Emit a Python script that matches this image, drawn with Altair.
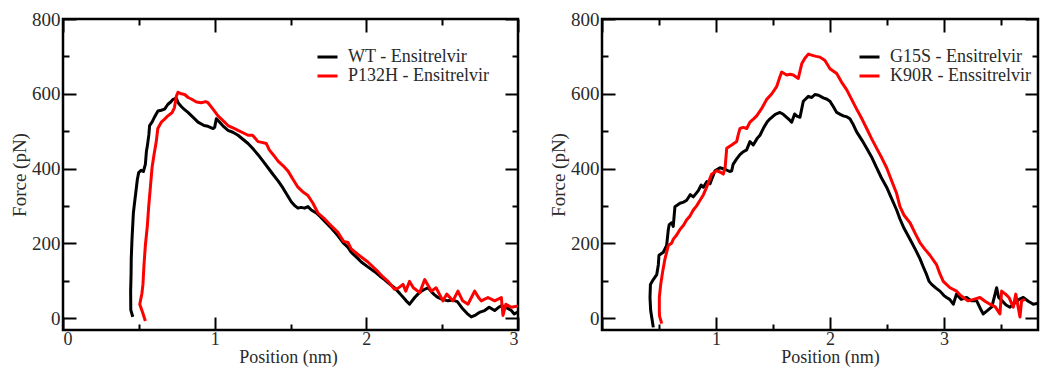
import altair as alt
import pandas as pd

FONT = "Liberation Serif, Times New Roman, Times, DejaVu Serif, serif"
TXT = "#2a2a2a"

# ---------------- data ----------------
left_names = ["WT - Ensitrelvir", "P132H - Ensitrelvir"]
right_names = ["G15S - Ensitrelvir", "K90R - Enssitrelvir"]

wt_x = [0.460, 0.447, 0.446, 0.449, 0.450, 0.455, 0.460, 0.464, 0.470, 0.483, 0.490, 0.499, 0.515, 0.530,
        0.543, 0.550, 0.556, 0.560, 0.566, 0.571, 0.580, 0.587, 0.600, 0.626, 0.648, 0.670, 0.692, 0.710,
        0.725, 0.747, 0.760, 0.780, 0.800, 0.824, 0.860, 0.890, 0.930, 0.956, 0.990, 1.000, 1.011, 1.030,
        1.060, 1.088, 1.120, 1.154, 1.190, 1.220, 1.250, 1.286, 1.320, 1.352, 1.385, 1.418, 1.450, 1.472,
        1.505, 1.530, 1.549, 1.570, 1.593, 1.615, 1.637, 1.670, 1.700, 1.725, 1.770, 1.813, 1.850, 1.879,
        1.900, 1.945, 1.967, 2.010, 2.055, 2.090, 2.120, 2.150, 2.186, 2.220, 2.250, 2.263, 2.285, 2.319,
        2.340, 2.363, 2.385, 2.407, 2.430, 2.450, 2.472, 2.500, 2.538, 2.570, 2.600, 2.637, 2.665, 2.692,
        2.720, 2.750, 2.780, 2.810, 2.846, 2.870, 2.890, 2.920, 2.956, 2.975, 3.000]
wt_y = [3, 22, 72, 120, 159, 211, 250, 281, 302, 346, 370, 389, 395, 392,
        411, 446, 460, 472, 490, 515, 520, 524, 535, 554, 556, 559, 572, 578,
        585, 588, 575, 566, 558, 550, 536, 524, 515, 513, 507, 510, 533, 525,
        512, 502, 497, 489, 477, 467, 454, 437, 419, 402, 384, 367, 348, 333,
        311, 300, 294, 296, 294, 298, 289, 281, 270, 259, 240, 220, 200, 189,
        176, 159, 150, 137, 124, 112, 103, 92, 81, 66, 52, 46, 37, 55,
        64, 72, 77, 81, 70, 62, 55, 50, 46, 48, 44, 24, 12, 3,
        8, 16, 20, 29, 20, 28, 33, 29, 20, 11, 16]

p132h_x = [0.543, 0.525, 0.506, 0.520, 0.527, 0.534, 0.543, 0.556, 0.565, 0.578, 0.587, 0.600, 0.615,
           0.625, 0.648, 0.670, 0.692, 0.720, 0.735, 0.747, 0.758, 0.780, 0.802, 0.825, 0.846, 0.880,
           0.912, 0.940, 0.956, 0.989, 1.022, 1.055, 1.088, 1.120, 1.154, 1.190, 1.220, 1.250, 1.286,
           1.310, 1.340, 1.360, 1.390, 1.418, 1.450, 1.484, 1.515, 1.549, 1.580, 1.615, 1.648, 1.681,
           1.725, 1.770, 1.813, 1.850, 1.879, 1.900, 1.945, 2.010, 2.077, 2.110, 2.143, 2.186, 2.210,
           2.242, 2.260, 2.285, 2.310, 2.352, 2.385, 2.410, 2.429, 2.460, 2.505, 2.530, 2.571, 2.604,
           2.635, 2.670, 2.714, 2.740, 2.758, 2.802, 2.846, 2.890, 2.901, 2.920, 2.956, 3.000]
p132h_y = [-8, 15, 37, 65, 90, 142, 194, 246, 298, 359, 402, 437, 472,
           507, 524, 532, 541, 550, 563, 593, 604, 600, 598, 590, 586, 578,
           576, 579, 576, 559, 541, 528, 515, 509, 502, 495, 489, 489, 472,
           470, 467, 450, 435, 420, 408, 393, 372, 350, 338, 328, 307, 281,
           265, 246, 229, 205, 202, 185, 170, 150, 124, 110, 98, 77, 80,
           90, 72, 98, 81, 68, 103, 85, 72, 81, 46, 64, 46, 72,
           46, 37, 72, 55, 46, 55, 46, 55, 7, 37, 29, 32]

g15s_x = [0.450, 0.440, 0.427, 0.421, 0.425, 0.450, 0.480, 0.494, 0.500, 0.538, 0.567, 0.582, 0.590,
          0.611, 0.625, 0.640, 0.684, 0.715, 0.743, 0.775, 0.801, 0.845, 0.870, 0.889, 0.920, 0.947,
          0.991, 1.035, 1.079, 1.120, 1.138, 1.150, 1.180, 1.210, 1.240, 1.269, 1.298, 1.327, 1.360,
          1.386, 1.420, 1.450, 1.474, 1.520, 1.561, 1.590, 1.620, 1.645, 1.664, 1.690, 1.710, 1.737,
          1.766, 1.810, 1.840, 1.868, 1.900, 1.941, 1.970, 2.000, 2.030, 2.059, 2.090, 2.117, 2.150,
          2.175, 2.200, 2.234, 2.280, 2.322, 2.370, 2.410, 2.450, 2.497, 2.540, 2.585, 2.614, 2.650,
          2.702, 2.750, 2.789, 2.820, 2.848, 2.870, 2.892, 2.930, 2.965, 3.000, 3.023, 3.050, 3.082,
          3.110, 3.150, 3.199, 3.240, 3.287, 3.320, 3.345, 3.380, 3.420, 3.462, 3.480, 3.510, 3.545,
          3.579, 3.620, 3.660, 3.696, 3.740, 3.784, 3.830, 3.871, 3.900, 3.930, 3.960, 3.988]
g15s_y = [-25, -5, 20, 55, 90, 103, 116, 142, 168, 176, 194, 237, 250,
          255, 245, 298, 307, 310, 315, 330, 324, 341, 356, 350, 365, 359,
          394, 402, 398, 392, 394, 411, 425, 437, 445, 450, 472, 463, 480,
          489, 510, 525, 533, 545, 550, 545, 537, 530, 524, 546, 540, 537,
          580, 593, 590, 598, 596, 589, 586, 580, 565, 550, 545, 541, 538,
          533, 520, 498, 476, 454, 428, 402, 376, 350, 320, 289, 265, 240,
          211, 183, 159, 136, 116, 98, 90, 80, 72, 60, 55, 50, 37,
          64, 50, 55, 46, 46, 25, 11, 20, 30, 81, 55, 46, 35,
          29, 40, 50, 55, 45, 37, 40, 29, 20, 11, 8, -6]

k90r_x = [0.524, 0.505, 0.503, 0.503, 0.515, 0.532, 0.553, 0.582, 0.610, 0.626, 0.655, 0.684, 0.715,
          0.743, 0.770, 0.801, 0.830, 0.860, 0.890, 0.918, 0.940, 0.962, 1.006, 1.040, 1.064, 1.080,
          1.094, 1.138, 1.181, 1.195, 1.210, 1.240, 1.270, 1.298, 1.330, 1.357, 1.400, 1.445, 1.490,
          1.532, 1.555, 1.576, 1.620, 1.650, 1.678, 1.722, 1.752, 1.780, 1.810, 1.854, 1.880, 1.912,
          1.956, 2.000, 2.059, 2.100, 2.146, 2.190, 2.234, 2.280, 2.322, 2.365, 2.410, 2.455, 2.497,
          2.540, 2.585, 2.614, 2.650, 2.702, 2.750, 2.789, 2.830, 2.877, 2.936, 2.965, 2.994, 3.053,
          3.111, 3.140, 3.170, 3.210, 3.260, 3.316, 3.360, 3.404, 3.450, 3.491, 3.506, 3.540, 3.570,
          3.608, 3.630, 3.667, 3.681, 3.710]
k90r_y = [-15, 5, 20, 55, 90, 124, 159, 194, 200, 211, 222, 237, 248,
          263, 272, 289, 300, 315, 330, 350, 368, 385, 394, 390, 385, 402,
          454, 463, 472, 490, 507, 510, 507, 524, 533, 541, 560, 585, 600,
          619, 640, 658, 650, 652, 650, 641, 680, 695, 706, 702, 700, 698,
          689, 667, 654, 632, 611, 585, 559, 533, 507, 480, 454, 428, 402,
          368, 333, 298, 275, 255, 225, 202, 185, 168, 142, 118, 98, 81,
          72, 62, 55, 46, 50, 55, 45, 37, 30, 11, 72, 64, 55,
          29, 64, 3, 46, 50]

y_labels = [0, 200, 400, 600, 800]
y_minor = [100, 300, 500, 700]
left_x_labels = [0, 1, 2, 3]
left_x_minor = [0.5, 1.5, 2.5]
right_x_labels = [1, 2, 3]
right_x_major = [0, 1, 2, 3]
right_x_minor = [0.5, 1.5, 2.5, 3.5]

H = 311
Y_DOMAIN = [-32, 800]
MAJOR, MINOR = 13, 6


def frame(names, series):
    rows = []
    for name, (xs, ys) in zip(names, series):
        for i, (a, b) in enumerate(zip(xs, ys)):
            rows.append({"series": name, "x": a, "y": b, "i": i})
    return pd.DataFrame(rows)


def panel(df, names, xdom, width, xlabels, xmajor, xminor, legend_x, title_x):
    xs = alt.Scale(domain=xdom, nice=False, zero=False)
    ys = alt.Scale(domain=Y_DOMAIN, nice=False, zero=False)
    base = alt.Chart(df)

    lines = base.mark_line(strokeWidth=3, strokeJoin="round", clip=True).encode(
        x=alt.X("x:Q", scale=xs, axis=alt.Axis(
            orient="bottom", values=xlabels, format="d", title="Position (nm)",
            ticks=False, tickSize=0, domain=False, grid=False, labelPadding=0, titlePadding=0,
            labelFontSize=18, titleFontSize=18, titleX=title_x)),
        y=alt.Y("y:Q", scale=ys, axis=alt.Axis(
            orient="left", values=y_labels, format="d", title="Force (pN)",
            ticks=False, tickSize=0, domain=False, grid=False, labelPadding=3, titlePadding=2.5)),
        color=alt.Color("series:N", scale=alt.Scale(domain=names, range=["#000000", "#ff0000"]),
                        legend=alt.Legend(orient="none", legendX=legend_x, legendY=28.5, title=None,
                                          symbolType="stroke", symbolSize=400, symbolStrokeWidth=3,
                                          labelFont=FONT, labelFontSize=18, labelColor=TXT,
                                          labelOffset=9, rowPadding=0, clipHeight=19, padding=0)),
        order=alt.Order("i:Q"),
    )

    def ticks(xorient, yorient, xvals, yvals, size):
        return base.mark_point(opacity=0, clip=True).encode(
            x=alt.X("x:Q", scale=xs, axis=alt.Axis(
                orient=xorient, values=xvals, offset=-size, tickSize=size, tickWidth=2,
                tickColor="black", labels=False, domain=False, grid=False, title=None)),
            y=alt.Y("y:Q", scale=ys, axis=alt.Axis(
                orient=yorient, values=yvals, offset=-size, tickSize=size, tickWidth=2,
                tickColor="black", labels=False, domain=False, grid=False, title=None)),
        )

    layers = [
        lines,
        ticks("bottom", "left", xmajor, y_labels, MAJOR),
        ticks("bottom", "left", xminor, y_minor, MINOR),
        ticks("top", "right", xmajor, y_labels, MAJOR),
        ticks("top", "right", xminor, y_minor, MINOR),
    ]
    return alt.layer(*layers).resolve_axis(x="independent", y="independent").properties(width=width, height=H)


left_df = frame(left_names, [(wt_x, wt_y), (p132h_x, p132h_y)])
right_df = frame(right_names, [(g15s_x, g15s_y), (k90r_x, k90r_y)])

left = panel(left_df, left_names, [0, 3], 455, left_x_labels, left_x_labels, left_x_minor, 253, 225)
right = panel(right_df, right_names, [0, 3.825], 436, right_x_labels, right_x_major, right_x_minor, 256, 228)

chart = (
    alt.hconcat(left, right, spacing=26)
    .resolve_scale(color="independent")
    .properties(padding={"left": 0, "top": 0, "right": 0, "bottom": 0}, background="white")
    .configure_view(stroke="black", strokeWidth=2.5)
    .configure_axis(labelFont=FONT, labelFontSize=19, labelColor=TXT,
                    titleFont=FONT, titleFontSize=19, titleFontWeight="normal", titleColor=TXT)
)

chart.save("out.html", embed_options={"renderer": "svg", "actions": False})
